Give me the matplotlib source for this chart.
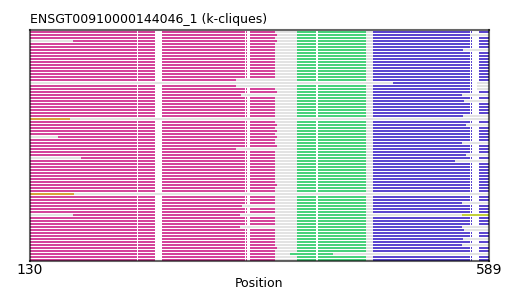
import numpy as np
import matplotlib.pyplot as plt

# alignment of 77 sequences, columns 130..589
n_rows = 77
x_min, x_max = 130, 589

# conserved blocks (start, end) in alignment columns
mag_block = (130, 375)
green_block = (397, 466)
blue_block = (473, 589)

# alignment columns that are gaps in the coloured blocks
gap_cols = [(237, 238), (255, 262), (345, 346), (347, 350), (416, 418), (570, 571), (572, 579)]

# per-row deviations
late_start = {3: 173, 35: 158, 42: 181, 61: 173}
mag_end_short = {16: 336, 18: 336, 21: 341, 39: 336, 58: 342, 61: 340, 65: 340}
mag_end_long = [1, 3, 20, 31, 33, 35, 38, 51, 72]
blue_end_short = {1: 570, 6: 563, 18: 577, 19: 577, 21: 562, 23: 564, 28: 563, 31: 566,
                  37: 562, 41: 566, 43: 555, 57: 562, 65: 562, 66: 564, 69: 563, 71: 562}
orange_rows = {29: 170, 54: 174}
lime_rows = {61: (562, 589)}
partial_blue = {17: (493, 577)}
green_override = {74: (390, 433)}
no_magenta = [17, 29, 54]
no_green = [17, 29, 54]
no_blue = [17, 29, 54, 61, 74]

WHITE, GRAY, MAG, GREEN, BLUE, ORANGE, LIME = range(7)
colors = {GRAY: "#e3e3e3", MAG: "#d4449b", GREEN: "#48d27c", BLUE: "#5c46cf",
          ORANGE: "#d8a03c", LIME: "#c2d03a"}


def build_row(i):
    row = np.full(x_max - x_min, GRAY)

    def paint(a, b, c):
        row[a - x_min:b - x_min] = c

    if i not in no_magenta:
        s = late_start.get(i, mag_block[0])
        e = mag_end_short.get(i, mag_block[1] + (2 if i in mag_end_long else 0))
        paint(s, e, MAG)
    if i not in no_green:
        paint(*green_override.get(i, green_block), GREEN)
    if i not in no_blue:
        paint(blue_block[0], blue_end_short.get(i, blue_block[1]), BLUE)
    if i in partial_blue:
        paint(*partial_blue[i], BLUE)
    if i in orange_rows:
        paint(x_min, orange_rows[i], ORANGE)
    if i in lime_rows:
        paint(*lime_rows[i], LIME)

    for a, b in gap_cols:
        seg = row[a - x_min:b - x_min]
        seg[(seg == MAG) | (seg == GREEN) | (seg == BLUE)] = WHITE
    return row


def runs(row):
    out = []
    start = 0
    for k in range(1, len(row) + 1):
        if k == len(row) or row[k] != row[start]:
            out.append((start + x_min, k - start, row[start]))
            start = k
    return out


fig = plt.figure(figsize=(5.19, 2.91), dpi=100)
ax = fig.add_axes([30 / 519, 30 / 291, 459 / 519, 231.5 / 291])

bar_h = 0.7
for i in range(n_rows):
    by_color = {}
    for x0, w, c in runs(build_row(i)):
        if c == WHITE:
            continue
        by_color.setdefault(c, []).append((x0, w))
    for c, xr in by_color.items():
        ax.broken_barh(xr, (i - bar_h / 2, bar_h), facecolors=colors[c],
                       linewidth=0, antialiased=False)

ax.set_xlim(x_min, x_max)
ax.set_ylim(76.33, -0.83)
ax.set_xticks([x_min, x_max])
ax.set_yticks([])
ax.tick_params(axis="x", length=0, labelsize=10, pad=1.5)
ax.set_xlabel("Position", fontsize=9, labelpad=0)
ax.set_title("ENSGT00910000144046_1 (k-cliques)", loc="left", fontsize=9, pad=5)

for sp in ax.spines.values():
    sp.set_edgecolor((0, 0, 0, 0.6))
    sp.set_linewidth(1.5)
    sp.set_zorder(5)

fig.savefig("out.png", dpi=100)
